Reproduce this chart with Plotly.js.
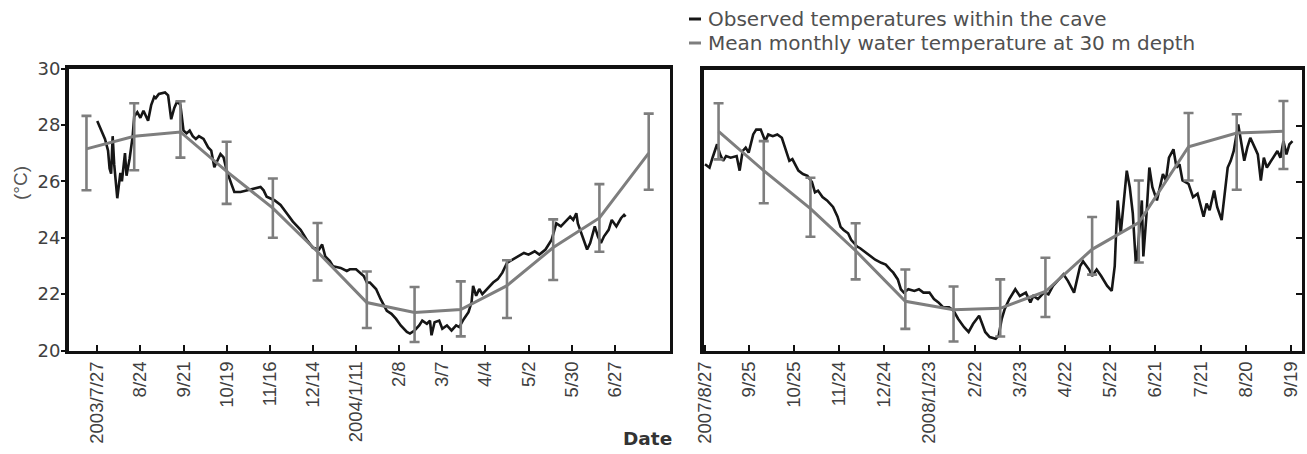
<!DOCTYPE html>
<html>
<head>
<meta charset="utf-8">
<script src="https://cdn.plot.ly/plotly-3.0.1.min.js"></script>
<style>html,body{margin:0;padding:0;background:#fff;}#chart{width:1307px;height:454px;}</style>
</head>
<body>
<div id="chart"></div>
<script>
// ---------- Left panel (2003-2004) ----------
const leftObsDates = ["2003-07-27","2003-07-30","2003-08-01","2003-08-03","2003-08-04","2003-08-05","2003-08-06","2003-08-07","2003-08-09","2003-08-11","2003-08-12","2003-08-14","2003-08-15","2003-08-17","2003-08-19","2003-08-20","2003-08-22","2003-08-24","2003-08-26","2003-08-29","2003-08-31","2003-09-02","2003-09-03","2003-09-05","2003-09-09","2003-09-11","2003-09-12","2003-09-13","2003-09-15","2003-09-17","2003-09-19","2003-09-20","2003-09-21","2003-09-23","2003-09-25","2003-09-27","2003-09-29","2003-10-01","2003-10-04","2003-10-07","2003-10-09","2003-10-11","2003-10-13","2003-10-15","2003-10-17","2003-10-19","2003-10-22","2003-10-24","2003-10-28","2003-11-01","2003-11-06","2003-11-10","2003-11-12","2003-11-14","2003-11-19","2003-11-23","2003-11-27","2003-12-01","2003-12-06","2003-12-10","2003-12-14","2003-12-18","2003-12-20","2003-12-22","2003-12-25","2003-12-27","2004-01-01","2004-01-05","2004-01-07","2004-01-11","2004-01-16","2004-01-18","2004-01-20","2004-01-22","2004-01-24","2004-01-27","2004-01-29","2004-01-31","2004-02-03","2004-02-06","2004-02-09","2004-02-13","2004-02-15","2004-02-18","2004-02-21","2004-02-23","2004-02-26","2004-02-28","2004-02-29","2004-03-02","2004-03-05","2004-03-07","2004-03-10","2004-03-13","2004-03-16","2004-03-18","2004-03-21","2004-03-24","2004-03-26","2004-03-27","2004-03-29","2004-03-31","2004-04-02","2004-04-05","2004-04-09","2004-04-12","2004-04-15","2004-04-18","2004-04-22","2004-04-26","2004-04-29","2004-05-02","2004-05-06","2004-05-09","2004-05-13","2004-05-17","2004-05-20","2004-05-23","2004-05-26","2004-05-29","2004-05-31","2004-06-02","2004-06-03","2004-06-06","2004-06-09","2004-06-11","2004-06-14","2004-06-16","2004-06-18","2004-06-20","2004-06-23","2004-06-25","2004-06-28","2004-07-01","2004-07-03","2004-07-04"];
const leftObsTemps = [28.14,27.79,27.50,27.09,26.45,26.27,27.6,26.6,25.4,26.3,26.0,27.0,26.2,26.8,27.6,28.3,28.45,28.25,28.5,28.15,28.7,29.0,28.95,29.1,29.15,29.05,28.7,28.2,28.6,28.85,28.7,28.3,27.8,27.7,27.8,27.6,27.5,27.6,27.5,27.2,27.09,26.5,26.74,26.97,26.85,26.39,25.92,25.62,25.62,25.68,25.74,25.80,25.68,25.45,25.33,25.16,24.87,24.57,24.28,23.93,23.64,23.58,23.76,23.34,23.17,22.99,22.93,22.82,22.88,22.88,22.64,22.41,22.41,22.29,22.18,21.82,21.59,21.41,21.30,21.12,20.89,20.66,20.60,20.71,20.89,21.06,20.95,21.06,20.54,21.0,21.06,20.77,20.89,20.71,20.89,20.83,21.12,21.36,21.71,22.29,21.94,22.18,22.0,22.18,22.41,22.53,22.76,23.11,23.23,23.34,23.46,23.40,23.52,23.40,23.58,23.93,24.51,24.40,24.57,24.75,24.63,24.87,24.51,24.05,23.58,23.81,24.40,24.05,23.81,24.05,24.28,24.63,24.40,24.69,24.81,24.75];

const leftMeanDates = ["2003-07-20","2003-08-20","2003-09-19","2003-10-19","2003-11-18","2003-12-17","2004-01-18","2004-02-18","2004-03-19","2004-04-18","2004-05-18","2004-06-17","2004-07-19"];
const leftMeanTemps = [27.15,27.6,27.75,26.35,25.05,23.5,21.7,21.35,21.45,22.3,23.65,24.7,27.0];
const leftMeanErrPlus = [1.17,1.17,1.09,1.05,1.05,1.02,1.1,0.9,1.0,0.9,1.0,1.2,1.4];
const leftMeanErrMinus = [1.47,1.21,0.91,1.15,1.05,1.02,0.9,1.05,0.95,1.15,1.15,1.2,1.3];

const leftTickVals = ["2003-07-27","2003-08-24","2003-09-21","2003-10-19","2003-11-16","2003-12-14","2004-01-11","2004-02-08","2004-03-07","2004-04-04","2004-05-02","2004-05-30","2004-06-27"];
const leftTickText = ["2003/7/27","8/24","9/21","10/19","11/16","12/14","2004/1/11","2/8","3/7","4/4","5/2","5/30","6/27"];

// ---------- Right panel (2007-2008) ----------
const rightObsDates = ["2007-08-27","2007-08-30","2007-09-01","2007-09-04","2007-09-06","2007-09-08","2007-09-10","2007-09-13","2007-09-17","2007-09-19","2007-09-21","2007-09-23","2007-09-25","2007-09-28","2007-09-30","2007-10-03","2007-10-06","2007-10-08","2007-10-11","2007-10-14","2007-10-17","2007-10-20","2007-10-22","2007-10-24","2007-10-28","2007-10-31","2007-11-03","2007-11-06","2007-11-08","2007-11-10","2007-11-13","2007-11-16","2007-11-20","2007-11-23","2007-11-25","2007-11-27","2007-11-30","2007-12-02","2007-12-04","2007-12-06","2007-12-08","2007-12-12","2007-12-15","2007-12-18","2007-12-22","2007-12-25","2007-12-28","2007-12-30","2008-01-02","2008-01-04","2008-01-06","2008-01-09","2008-01-13","2008-01-16","2008-01-19","2008-01-23","2008-01-26","2008-01-29","2008-02-01","2008-02-05","2008-02-08","2008-02-11","2008-02-15","2008-02-18","2008-02-21","2008-02-25","2008-02-27","2008-02-29","2008-03-03","2008-03-07","2008-03-09","2008-03-11","2008-03-13","2008-03-16","2008-03-20","2008-03-23","2008-03-27","2008-03-30","2008-04-01","2008-04-04","2008-04-08","2008-04-11","2008-04-14","2008-04-18","2008-04-21","2008-04-24","2008-04-28","2008-04-30","2008-05-02","2008-05-04","2008-05-08","2008-05-10","2008-05-13","2008-05-16","2008-05-20","2008-05-23","2008-05-25","2008-05-26","2008-05-27","2008-05-29","2008-05-31","2008-06-02","2008-06-04","2008-06-06","2008-06-08","2008-06-09","2008-06-12","2008-06-13","2008-06-15","2008-06-17","2008-06-19","2008-06-22","2008-06-24","2008-06-26","2008-06-28","2008-06-30","2008-07-03","2008-07-05","2008-07-07","2008-07-09","2008-07-13","2008-07-16","2008-07-19","2008-07-23","2008-07-25","2008-07-27","2008-07-30","2008-08-01","2008-08-04","2008-08-06","2008-08-08","2008-08-10","2008-08-12","2008-08-15","2008-08-17","2008-08-19","2008-08-21","2008-08-23","2008-08-26","2008-08-28","2008-08-30","2008-09-01","2008-09-03","2008-09-07","2008-09-10","2008-09-12","2008-09-14","2008-09-16","2008-09-18","2008-09-20"];
const rightObsTemps = [26.63,26.51,26.86,27.34,26.98,26.75,26.92,26.86,26.92,26.40,27.10,27.22,27.04,27.69,27.86,27.86,27.45,27.69,27.63,27.69,27.57,27.10,26.75,26.81,26.40,26.28,26.22,25.99,25.63,25.69,25.46,25.34,25.11,24.76,24.40,24.29,24.17,23.94,23.82,23.70,23.64,23.47,23.35,23.23,23.12,23.06,22.88,22.77,22.53,22.18,22.06,22.18,22.12,22.18,22.06,22.06,21.83,21.71,21.54,21.54,21.42,21.13,20.83,20.66,20.95,21.24,20.95,20.66,20.48,20.42,20.54,21.13,21.48,21.83,22.18,21.94,22.06,21.71,21.94,21.83,22.06,22.00,22.30,22.53,22.71,22.47,22.06,22.53,23.00,23.17,22.88,22.65,22.88,22.65,22.30,22.12,23.00,24.29,25.34,24.17,25.23,26.40,25.81,24.88,23.12,23.35,25.34,23.35,24.76,26.51,25.81,25.34,25.81,26.28,26.05,26.86,27.16,26.51,26.63,26.05,25.93,25.46,25.58,24.76,25.23,24.99,25.69,25.11,24.64,25.58,26.51,26.75,27.10,28.04,27.45,26.75,27.22,27.57,27.22,26.98,26.05,26.86,26.51,26.86,27.10,26.86,27.45,26.98,27.34,27.45];

const rightMeanDates = ["2007-09-05","2007-10-05","2007-11-05","2007-12-05","2008-01-07","2008-02-08","2008-03-10","2008-04-09","2008-05-10","2008-06-10","2008-07-13","2008-08-14","2008-09-14"];
const rightMeanTemps = [27.8,26.4,25.05,23.55,21.75,21.45,21.5,22.1,23.6,24.55,27.25,27.74,27.8];
const rightMeanErrPlus = [1.0,1.05,1.1,0.98,1.13,0.83,1.03,1.2,1.15,1.5,1.2,0.67,1.08];
const rightMeanErrMinus = [1.0,1.16,1.0,1.02,0.98,1.13,1.0,0.91,0.9,1.42,1.2,2.02,1.34];

const rightTickVals = ["2007-08-27","2007-09-25","2007-10-25","2007-11-24","2007-12-24","2008-01-23","2008-02-22","2008-03-23","2008-04-22","2008-05-22","2008-06-21","2008-07-21","2008-08-20","2008-09-19"];
const rightTickText = ["2007/8/27","9/25","10/25","11/24","12/24","2008/1/23","2/22","3/23","4/22","5/22","6/21","7/21","8/20","9/19"];

const yTickVals = [20,22,24,26,28,30];
const legendLabels = ["Observed temperatures within the cave","Mean monthly water temperature at 30 m depth"];

// ---------- styling ----------
const W = 1307, H = 454;
const px = v => v / W;
const py = v => 1 - v / H;
const obsColor = "#161616";
const meanColor = "#7e7e7e";
const frameColor = "#111111";
const textColor = "#404040";

function meanTrace(x, y, plus, minus, xa, ya) {
  return {
    x: x, y: y, xaxis: xa, yaxis: ya, type: "scatter", mode: "lines",
    line: {color: meanColor, width: 3},
    error_y: {type: "data", symmetric: false, array: plus, arrayminus: minus,
              color: meanColor, thickness: 2.6, width: 5},
    hoverinfo: "skip", showlegend: false
  };
}
function obsTrace(x, y, xa, ya) {
  return {
    x: x, y: y, xaxis: xa, yaxis: ya, type: "scatter", mode: "lines",
    line: {color: obsColor, width: 2.6},
    hoverinfo: "skip", showlegend: false
  };
}

const data = [
  obsTrace(leftObsDates, leftObsTemps, "x", "y"),
  meanTrace(leftMeanDates, leftMeanTemps, leftMeanErrPlus, leftMeanErrMinus, "x", "y"),
  obsTrace(rightObsDates, rightObsTemps, "x2", "y2"),
  meanTrace(rightMeanDates, rightMeanTemps, rightMeanErrPlus, rightMeanErrMinus, "x2", "y2")
];

const xTickFont = {family: "Liberation Sans, Arial, sans-serif", size: 18.5, color: textColor};
const yTickFont = {family: "DejaVu Sans, sans-serif", size: 18, color: textColor};

const baseX = {
  type: "date", showgrid: false, zeroline: false,
  showline: true, linecolor: frameColor, linewidth: 3.5, mirror: true,
  ticks: "inside", ticklen: 6, tickwidth: 2, tickcolor: frameColor,
  tickmode: "array", tickangle: -90, tickfont: xTickFont,
  fixedrange: true
};
const baseY = {
  range: [20, 30], showgrid: false, zeroline: false,
  showline: true, linecolor: frameColor, linewidth: 3.5, mirror: true,
  tickmode: "array", tickvals: yTickVals, tickwidth: 2, tickcolor: frameColor,
  tickfont: yTickFont, fixedrange: true
};

const layout = {
  width: W, height: H,
  margin: {l: 0, r: 0, t: 0, b: 0},
  paper_bgcolor: "#ffffff", plot_bgcolor: "#ffffff",
  showlegend: false,
  xaxis: Object.assign({}, baseX, {
    domain: [px(68.5), px(669.5)], anchor: "y",
    range: ["2003-07-08 08:00", "2004-08-01 12:00"],
    tickvals: leftTickVals, ticktext: leftTickText
  }),
  yaxis: Object.assign({}, baseY, {
    domain: [py(350.5), py(68.5)], anchor: "x",
    ticks: "outside", ticklen: 4, showticklabels: true, ticklabelstandoff: -3,
    ticktext: yTickVals.map(String)
  }),
  xaxis2: Object.assign({}, baseX, {
    domain: [px(703.5), px(1301.5)], anchor: "y2",
    range: ["2007-08-26", "2008-09-26"],
    tickvals: rightTickVals, ticktext: rightTickText
  }),
  yaxis2: Object.assign({}, baseY, {
    domain: [py(350.5), py(69.5)], anchor: "x2", side: "right",
    ticks: "inside", ticklen: 6, showticklabels: false
  }),
  shapes: [
    {type: "line", xref: "paper", yref: "paper", x0: px(689), x1: px(701), y0: py(19), y1: py(19),
     line: {color: obsColor, width: 3}},
    {type: "line", xref: "paper", yref: "paper", x0: px(689), x1: px(701), y0: py(43), y1: py(43),
     line: {color: meanColor, width: 3}}
  ],
  annotations: [
    {xref: "paper", yref: "paper", x: px(706), y: py(19), xanchor: "left", yanchor: "middle",
     text: legendLabels[0], showarrow: false,
     font: {family: "DejaVu Sans, sans-serif", size: 20, color: "#505050"}},
    {xref: "paper", yref: "paper", x: px(706), y: py(43), xanchor: "left", yanchor: "middle",
     text: legendLabels[1], showarrow: false,
     font: {family: "DejaVu Sans, sans-serif", size: 20, color: "#505050"}},
    {xref: "paper", yref: "paper", x: px(20), y: py(183), xanchor: "center", yanchor: "middle",
     text: "(°C)", textangle: -90, showarrow: false,
     font: {family: "Liberation Sans, Arial, sans-serif", size: 19, color: "#555555"}},
    {xref: "paper", yref: "paper", x: px(647), y: py(438), xanchor: "center", yanchor: "middle",
     text: "<b>Date</b>", showarrow: false,
     font: {family: "DejaVu Sans, sans-serif", size: 18.5, color: "#333333"}}
  ]
};

Plotly.newPlot("chart", data, layout, {displayModeBar: false, staticPlot: true});
</script>
</body>
</html>
